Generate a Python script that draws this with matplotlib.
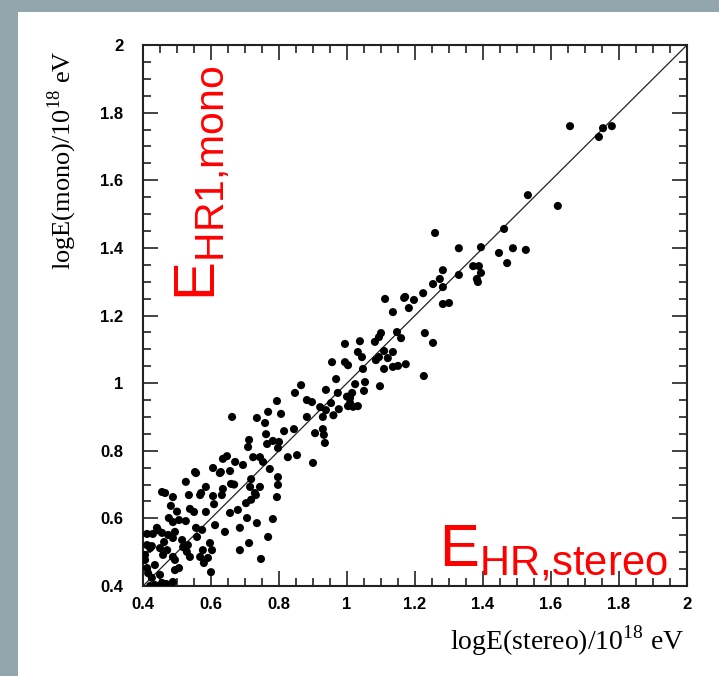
"""Mono vs stereo energy reconstruction: scatter of logE values with y = x line."""
import matplotlib
matplotlib.use("Agg")
import matplotlib.pyplot as plt
from matplotlib.patches import Rectangle
from matplotlib.ticker import MultipleLocator, FuncFormatter

plt.rcParams["mathtext.fontset"] = "custom"
plt.rcParams["mathtext.rm"] = "Liberation Serif"
plt.rcParams["mathtext.sf"] = "Liberation Sans"

# logE(stereo) / 1e18 eV
log_e_stereo = [
    1.656, 1.741, 1.753, 1.779, 1.532, 1.620, 1.462, 1.329, 1.394, 1.447,
    1.488, 1.526, 1.471, 1.371, 1.388, 1.394, 1.382, 1.385, 1.329, 1.259,
    1.282, 1.273, 1.253, 1.282, 1.224, 1.171, 1.197, 1.182, 1.282, 1.300,
    1.112, 1.168, 1.135, 1.229, 1.253, 1.226, 1.147, 1.159, 1.100, 1.094,
    1.082, 1.038, 0.994, 1.032, 1.044, 1.094, 1.109, 1.135, 1.120, 1.085,
    0.956, 0.994, 1.003, 1.047, 1.109, 1.135, 1.150, 1.173, 0.968, 1.024,
    1.053, 1.050, 1.097, 0.938, 0.973, 1.015, 1.009, 0.882, 0.897, 0.953,
    0.921, 0.938, 0.976, 1.003, 1.032, 0.882, 0.929, 0.865, 0.847, 0.794,
    0.768, 0.806, 0.662, 0.735, 0.759, 1.009, 0.815, 0.844, 0.906, 0.929,
    0.932, 0.935, 0.762, 0.782, 0.712, 0.709, 0.765, 0.800, 0.797, 0.826,
    0.853, 0.900, 0.647, 0.635, 0.671, 0.694, 0.724, 0.744, 0.753, 0.773,
    0.606, 0.629, 0.656, 0.553, 0.797, 0.797, 0.718, 0.659, 0.585, 0.635,
    0.715, 0.744, 0.568, 0.606, 0.632, 0.794, 0.732, 0.456, 0.465, 0.488,
    0.482, 0.526, 0.556, 0.535, 0.538, 0.550, 0.571, 0.609, 0.585, 0.626,
    0.476, 0.488, 0.506, 0.526, 0.556, 0.574, 0.441, 0.412, 0.429, 0.456,
    0.474, 0.494, 0.515, 0.488, 0.462, 0.426, 0.450, 0.471, 0.459, 0.488,
    0.518, 0.532, 0.529, 0.538, 0.494, 0.568, 0.576, 0.597, 0.603, 0.591,
    0.579, 0.506, 0.494, 0.600, 0.406, 0.406, 0.412, 0.415, 0.426, 0.421,
    0.435, 0.456, 0.468, 0.488, 0.641, 0.685, 0.712, 0.747, 0.768, 0.685,
    0.706, 0.735, 0.782, 0.679, 0.656, 0.703, 0.729, 1.000, 1.018, 0.960,
    0.412, 0.435, 0.450, 0.421, 0.444, 0.500, 0.559, 0.612, 0.718, 0.668,
]
# logE(mono) / 1e18 eV
log_e_mono = [
    1.760, 1.728, 1.754, 1.760, 1.556, 1.524, 1.456, 1.399, 1.402, 1.385,
    1.399, 1.394, 1.355, 1.346, 1.346, 1.326, 1.308, 1.299, 1.320, 1.444,
    1.334, 1.308, 1.293, 1.284, 1.266, 1.255, 1.246, 1.222, 1.234, 1.237,
    1.249, 1.252, 1.210, 1.148, 1.119, 1.021, 1.151, 1.133, 1.148, 1.136,
    1.122, 1.124, 1.116, 1.092, 1.077, 1.077, 1.095, 1.092, 1.074, 1.068,
    1.062, 1.062, 1.053, 1.042, 1.042, 1.048, 1.051, 1.056, 1.012, 0.997,
    1.003, 0.977, 0.991, 0.980, 0.971, 0.971, 0.956, 0.950, 0.944, 0.941,
    0.929, 0.920, 0.923, 0.932, 0.932, 0.900, 0.900, 0.994, 0.971, 0.947,
    0.915, 0.909, 0.900, 0.897, 0.882, 0.941, 0.858, 0.864, 0.852, 0.864,
    0.847, 0.823, 0.849, 0.829, 0.832, 0.811, 0.820, 0.826, 0.808, 0.781,
    0.787, 0.764, 0.784, 0.776, 0.767, 0.758, 0.781, 0.781, 0.767, 0.746,
    0.749, 0.737, 0.740, 0.737, 0.722, 0.699, 0.716, 0.702, 0.693, 0.687,
    0.693, 0.693, 0.669, 0.666, 0.669, 0.663, 0.669, 0.678, 0.675, 0.663,
    0.637, 0.708, 0.734, 0.669, 0.628, 0.619, 0.675, 0.642, 0.619, 0.734,
    0.601, 0.589, 0.595, 0.592, 0.572, 0.566, 0.572, 0.554, 0.554, 0.557,
    0.551, 0.560, 0.536, 0.542, 0.530, 0.518, 0.512, 0.506, 0.492, 0.486,
    0.515, 0.521, 0.501, 0.486, 0.477, 0.486, 0.506, 0.527, 0.506, 0.483,
    0.468, 0.453, 0.447, 0.441, 0.492, 0.477, 0.453, 0.438, 0.424, 0.400,
    0.403, 0.409, 0.406, 0.412, 0.560, 0.506, 0.527, 0.480, 0.545, 0.572,
    0.601, 0.586, 0.598, 0.625, 0.616, 0.645, 0.675, 0.960, 0.930, 0.905,
    0.521, 0.462, 0.433, 0.512, 0.565, 0.620, 0.545, 0.580, 0.655, 0.700,
]

axis_min, axis_max = 0.4, 2.0
xlabel = "logE(stereo)/10$^{18}$ eV"
ylabel = "logE(mono)/10$^{18}$ eV"

fig = plt.figure(figsize=(7.19, 6.76), dpi=100)
fig.patch.set_facecolor("#93a6ae")
fig.patches.append(Rectangle((18 / 719, 0), 1, 1 - 12 / 676, transform=fig.transFigure,
                             facecolor="white", edgecolor="none", zorder=-5))

ax = fig.add_axes([143 / 719, 90 / 676, 544 / 719, 541 / 676])
ax.set_facecolor("white")
ax.plot([axis_min, axis_max], [axis_min, axis_max], color="#222222", lw=0.9, zorder=2)
ax.scatter(log_e_stereo, log_e_mono, s=34, color="black", marker="o",
           edgecolors="none", zorder=3)
ax.set_xlim(axis_min, axis_max)
ax.set_ylim(axis_min, axis_max)

fmt = FuncFormatter(lambda v, _: f"{v:g}")
for axis in (ax.xaxis, ax.yaxis):
    axis.set_major_locator(MultipleLocator(0.2))
    axis.set_minor_locator(MultipleLocator(0.05))
    axis.set_major_formatter(fmt)
ax.tick_params(which="both", direction="in", top=True, right=True, width=1.2,
               color="#222222")
ax.tick_params(which="major", length=11)
ax.tick_params(which="minor", length=5.5)
ax.tick_params(axis="y", which="major", pad=14)
ax.tick_params(axis="x", which="major", pad=8)
for lab in ax.get_xticklabels() + ax.get_yticklabels():
    lab.set_fontfamily("Liberation Sans")
    lab.set_fontweight("bold")
    lab.set_fontsize(12)
for sp in ax.spines.values():
    sp.set_linewidth(1.5)
    sp.set_color("#222222")

ax.text(0.995, -0.07, xlabel, transform=ax.transAxes, ha="right", va="top",
        fontsize=20, family="Liberation Serif")
ax.text(-0.149, 0.99, ylabel, transform=ax.transAxes, ha="center", va="top",
        rotation=90, fontsize=19, family="Liberation Serif")

red = "#ff0000"
ax.text(0.11, 0.745, r"$\mathsf{E}_{\mathsf{HR1{,}mono}}$", transform=ax.transAxes,
        rotation=90, ha="center", va="center", color=red, fontsize=42)
ax.text(0.755, 0.06, r"$\mathsf{E}_{\mathsf{HR{,}stereo}}$", transform=ax.transAxes,
        ha="center", va="center", color=red, fontsize=43)

fig.savefig("out.png", dpi=100, facecolor=fig.get_facecolor())
